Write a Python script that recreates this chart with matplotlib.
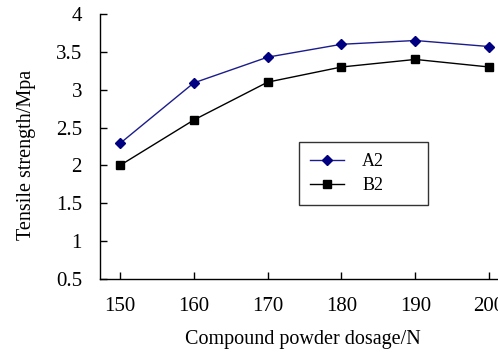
import matplotlib
matplotlib.use("Agg")
import matplotlib.pyplot as plt

dosage = [150, 160, 170, 180, 190, 200]
a2_strength = [2.29, 3.09, 3.43, 3.60, 3.65, 3.57]
b2_strength = [2.00, 2.60, 3.10, 3.30, 3.40, 3.30]
y_ticks = [0.5, 1, 1.5, 2, 2.5, 3, 3.5, 4]
y_tick_labels = ["0.5", "1", "1.5", "2", "2.5", "3", "3.5", "4"]

plt.rcParams["font.family"] = ["Liberation Serif", "DejaVu Serif"]

fig = plt.figure(figsize=(4.98, 3.54), dpi=100)
ax = fig.add_axes([100 / 498, 1 - 279 / 354, 398 / 498, 265 / 354])

ax.plot(dosage, a2_strength, color="#1c1c8c", linewidth=1.0, marker="D",
        markersize=5, markerfacecolor="#000080", markeredgecolor="#000080", label="A2")
ax.plot(dosage, b2_strength, color="black", linewidth=1.0, marker="s",
        markersize=5.5, markerfacecolor="black", markeredgecolor="black", label="B2")

ax.set_xlim(147.3, 201.2)
ax.set_ylim(0.5, 4)
ax.set_xticks(dosage)
ax.set_yticks(y_ticks)
ax.set_yticklabels(y_tick_labels)
ax.tick_params(axis="both", direction="in", length=5, width=1, labelsize=15, pad=13)

for side in ("top", "right"):
    ax.spines[side].set_visible(False)
for side in ("left", "bottom"):
    ax.spines[side].set_linewidth(1.0)

ax.set_xlabel("Compound powder dosage/N", fontsize=14.5, va="center")
ax.xaxis.set_label_coords(0.51, -0.23)
ax.set_ylabel("Tensile strength/Mpa", fontsize=14.5, va="center")
ax.yaxis.set_label_coords(-0.185, 0.47)

leg = ax.legend(loc="upper left", bbox_to_anchor=(0.5, 0.287, 0.324, 0.23),
                mode="expand", fontsize=13, frameon=True, fancybox=False,
                handlelength=1.9, handletextpad=1.0, borderpad=0.6,
                labelspacing=0.4, borderaxespad=0)
leg.get_frame().set_edgecolor("black")
leg.get_frame().set_linewidth(1.0)

fig.savefig("out.png", dpi=100)
